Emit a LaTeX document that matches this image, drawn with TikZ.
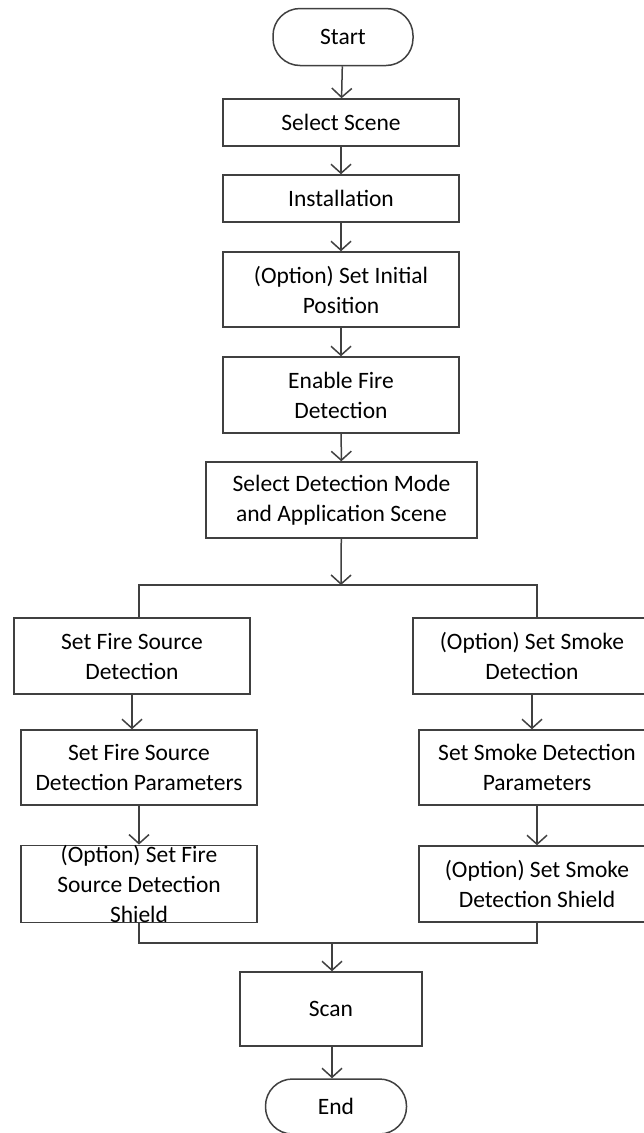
\documentclass[tikz,border=0pt]{standalone}
\usepackage{fontspec}
\setmainfont{Carlito}
\usetikzlibrary{arrows.meta}

\begin{document}
\begin{tikzpicture}[x=1pt,y=-1pt,
	line width=1.5pt,draw=black!75,
	box/.style={draw=black!75,line width=1.5pt,rectangle,align=center,inner sep=0pt,
		font=\fontsize{23.5}{30}\selectfont},
	term/.style={box,rounded corners=27pt},
	arr/.style={-{Straight Barb[length=9pt,width=20pt]}}]
	\useasboundingbox (0,0) rectangle (644,1133);
	\clip (0,0) rectangle (644,1133);
	
	%main column
	\node[term,minimum width=140pt,minimum height=57pt] (start) at (343,37) {Start};
	\node[box,minimum width=236pt,minimum height=47pt] (scene) at (341,122.5) {Select Scene};
	\node[box,minimum width=236pt,minimum height=47pt] (install) at (341,198.5) {Installation};
	\node[box,minimum width=236pt,minimum height=75pt] (initpos) at (341,289.5) {(Option) Set Initial\\Position};
	\node[box,minimum width=236pt,minimum height=76pt] (enable) at (341,395) {Enable Fire\\Detection};
	\node[box,minimum width=271pt,minimum height=76pt] (mode) at (341.5,500) {Select Detection Mode\\and Application Scene};
	
	%fire source branch
	\node[box,minimum width=236pt,minimum height=76pt] (fsrc) at (132,656) {Set Fire Source\\Detection};
	\node[box,minimum width=236pt,minimum height=75pt] (fpar) at (139,767.5) {Set Fire Source\\Detection Parameters};
	\node[box,minimum width=236pt,minimum height=76pt] (fshield) at (139,884) {(Option) Set Fire\\Source Detection\\Shield};
	
	%smoke branch
	\node[box,minimum width=238pt,minimum height=76pt] (smk) at (532,656) {(Option) Set Smoke\\Detection};
	\node[box,minimum width=236pt,minimum height=75pt] (spar) at (537,767.5) {Set Smoke Detection\\Parameters};
	\node[box,minimum width=236pt,minimum height=76pt] (sshield) at (537,884) {(Option) Set Smoke\\Detection Shield};
	
	%end
	\node[box,minimum width=182pt,minimum height=74pt] (scan) at (331,1009) {Scan};
	\node[term,minimum width=141pt,minimum height=55pt] (end) at (336,1106.5) {End};
	
	%split and join points
	\coordinate (split) at (341,585);
	\coordinate (splitL) at (139,585);
	\coordinate (splitR) at (537,585);
	\coordinate (join) at (332,943);
	
	%connectors
	\draw[arr] (start) -- (scene);
	\draw[arr] (scene) -- (install);
	\draw[arr] (install) -- (initpos);
	\draw[arr] (initpos) -- (enable);
	\draw[arr] (enable) -- (mode);
	\draw[arr] (mode) -- (split);
	\draw (fsrc.north -| splitL) -- (splitL) -- (splitR) -- (splitR |- smk.north);
	\draw[arr] (fsrc) -- (fsrc |- fpar.north);
	\draw[arr] (fpar) -- (fshield);
	\draw[arr] (smk) -- (smk |- spar.north);
	\draw[arr] (spar) -- (sshield);
	\draw (fshield.south) -- (fshield.south |- join) -- (join -| sshield.south) -- (sshield.south);
	\draw[arr] (join) -- (join |- scan.north);
	\draw[arr] (scan.south -| join) -- (join |- end.north);
\end{tikzpicture}
\end{document}
